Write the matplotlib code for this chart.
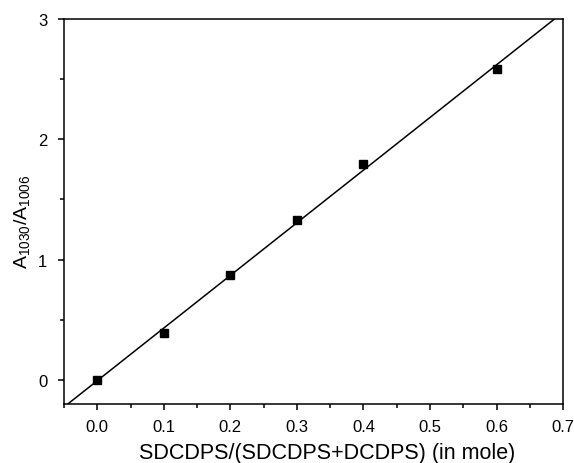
import matplotlib
matplotlib.use("Agg")
import matplotlib.pyplot as plt
import numpy as np
from matplotlib.ticker import MultipleLocator

plt.rcParams['font.family'] = ['Liberation Sans', 'DejaVu Sans']
plt.rcParams['mathtext.fontset'] = 'custom'
plt.rcParams['mathtext.rm'] = 'Liberation Sans'
plt.rcParams['mathtext.it'] = 'Liberation Sans'

# data
mole_frac = [0.0, 0.1, 0.2, 0.3, 0.4, 0.6]
ratio = [0.0, 0.39, 0.87, 1.33, 1.79, 2.58]

x_ticks = [0.0, 0.1, 0.2, 0.3, 0.4, 0.5, 0.6, 0.7]
y_ticks = [0, 1, 2, 3]

# linear fit of the points
slope, icpt = np.polyfit(mole_frac, ratio, 1)
xfit = np.array([-0.05, 0.7])

fig = plt.figure(figsize=(5.74, 4.64), dpi=100)
ax = fig.add_axes([0.1115, 0.127, 0.8695, 0.8305])

ax.plot(xfit, slope * xfit + icpt, color='black', lw=1.1)
ax.plot(mole_frac, ratio, 's', color='black', ms=6)

ax.set_xlim(-0.05, 0.7)
ax.set_ylim(-0.2, 3)
ax.set_xticks(x_ticks)
ax.set_xticklabels([f"{v:.1f}" for v in x_ticks])
ax.set_yticks(y_ticks)
ax.xaxis.set_minor_locator(MultipleLocator(0.05))
ax.yaxis.set_minor_locator(MultipleLocator(0.5))

ax.tick_params(which='major', direction='out', length=4, width=1.1, labelsize=12)
ax.tick_params(which='minor', direction='out', length=3, width=1.1)
ax.tick_params(axis='x', pad=7)
ax.tick_params(axis='y', pad=8)
for s in ax.spines.values():
    s.set_linewidth(1.1)

ax.set_xlabel("SDCDPS/(SDCDPS+DCDPS) (in mole)", fontsize=15.5)
ax.xaxis.set_label_coords(0.528, -0.098)
ax.set_ylabel(r"$\mathregular{A_{1030}/A_{1006}}$", fontsize=14)
ax.yaxis.set_label_coords(-0.064, 0.475)

fig.savefig("out.png", dpi=100)
